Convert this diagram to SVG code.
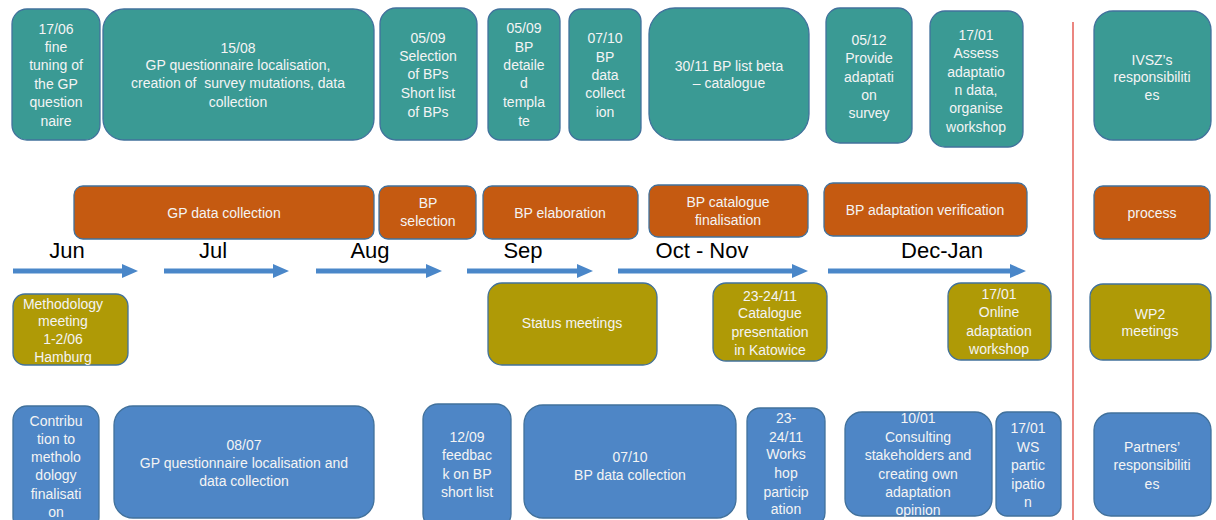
<svg xmlns="http://www.w3.org/2000/svg" width="1216" height="520" viewBox="0 0 1216 520">
<style>
.b{stroke:#41719C;stroke-width:1.3}
.t{fill:#3A9A94}
.o{fill:#C55A11}
.y{fill:#AF9A06}
.u{fill:#4E86C6}
text{font-family:"Liberation Sans",Arial,sans-serif;font-size:14px;fill:#F4F4F4;text-anchor:middle}
.m{font-size:22px;fill:#000}
.ar{fill:#4A87C9}
</style>
<rect width="1216" height="520" fill="#fff"/>
<line x1="1073" y1="22" x2="1073" y2="520" stroke="#E0443C" stroke-width="1.3"/>

<g id="n1"><rect class="b t" x="12" y="9" width="88" height="131" rx="15"/>
<text x="56"><tspan x="56" y="34">17/06</tspan><tspan x="56" y="52">fine</tspan><tspan x="56" y="70">tuning of</tspan><tspan x="56" y="89">the GP</tspan><tspan x="56" y="107">question</tspan><tspan x="56" y="126">naire</tspan></text></g>
<g id="n2"><rect class="b t" x="103" y="9" width="271" height="131" rx="21"/>
<text><tspan x="238" y="53">15/08</tspan><tspan x="238" y="70">GP questionnaire localisation,</tspan><tspan x="238" y="88">creation of &#160;survey mutations, data</tspan><tspan x="238" y="107">collection</tspan></text></g>
<g id="n3"><rect class="b t" x="380" y="8" width="97" height="132" rx="16"/>
<text><tspan x="428" y="43">05/09</tspan><tspan x="428" y="61">Selection</tspan><tspan x="428" y="79">of BPs</tspan><tspan x="428" y="98">Short list</tspan><tspan x="428" y="117">of BPs</tspan></text></g>
<g id="n4"><rect class="b t" x="488" y="9" width="72" height="131" rx="12"/>
<text><tspan x="524" y="33">05/09</tspan><tspan x="524" y="52">BP</tspan><tspan x="524" y="70">detaile</tspan><tspan x="524" y="88">d</tspan><tspan x="524" y="107">templa</tspan><tspan x="524" y="126">te</tspan></text></g>
<g id="n5"><rect class="b t" x="569" y="9" width="72" height="131" rx="12"/>
<text><tspan x="605" y="43">07/10</tspan><tspan x="605" y="62">BP</tspan><tspan x="605" y="80">data</tspan><tspan x="605" y="98">collect</tspan><tspan x="605" y="117">ion</tspan></text></g>
<g id="n6"><rect class="b t" x="649" y="8" width="160" height="132" rx="26"/>
<text><tspan x="729" y="71">30/11 BP list beta</tspan><tspan x="729" y="88">– catalogue</tspan></text></g>
<g id="n7"><rect class="b t" x="826" y="8" width="86" height="135" rx="14"/>
<text><tspan x="869" y="45">05/12</tspan><tspan x="869" y="63">Provide</tspan><tspan x="869" y="82">adaptati</tspan><tspan x="869" y="100">on</tspan><tspan x="869" y="118">survey</tspan></text></g>
<g id="n8"><rect class="b t" x="930" y="11" width="93" height="136" rx="15"/>
<text><tspan x="976" y="40">17/01</tspan><tspan x="976" y="58">Assess</tspan><tspan x="976" y="77">adaptatio</tspan><tspan x="976" y="95">n data,</tspan><tspan x="976" y="113">organise</tspan><tspan x="976" y="132">workshop</tspan></text></g>
<g id="n9"><rect class="b t" x="1094" y="11" width="117" height="129" rx="19"/>
<text><tspan x="1152" y="65">IVSZ’s</tspan><tspan x="1152" y="82">responsibiliti</tspan><tspan x="1152" y="100">es</tspan></text></g>

<g id="o1"><rect class="b o" x="74" y="186" width="300" height="53" rx="9"/><text x="224" y="218">GP data collection</text></g>
<g id="o2"><rect class="b o" x="379" y="186" width="97" height="53" rx="9"/><text><tspan x="428" y="208">BP</tspan><tspan x="428" y="226">selection</tspan></text></g>
<g id="o3"><rect class="b o" x="483" y="186" width="155" height="53" rx="9"/><text x="560" y="218">BP elaboration</text></g>
<g id="o4"><rect class="b o" x="649" y="185" width="159" height="52" rx="9"/><text><tspan x="728" y="207">BP catalogue</tspan><tspan x="728" y="225">finalisation</tspan></text></g>
<g id="o5"><rect class="b o" x="824" y="183" width="203" height="53" rx="9"/><text x="925" y="215">BP adaptation verification</text></g>
<g id="o6"><rect class="b o" x="1094" y="186" width="116" height="53" rx="9"/><text x="1152" y="218">process</text></g>

<g id="months">
<text class="m" x="67" y="258">Jun</text>
<text class="m" x="213" y="258">Jul</text>
<text class="m" x="370" y="258">Aug</text>
<text class="m" x="523" y="258">Sep</text>
<text class="m" x="702" y="258">Oct - Nov</text>
<text class="m" x="942" y="258">Dec-Jan</text>
</g>

<g id="connectors">
<polygon class="ar" points="13,268.5 122,268.5 122,264 138,271 122,278 122,273.5 13,273.5"/>
<polygon class="ar" points="164,268.5 273,268.5 273,264 289,271 273,278 273,273.5 164,273.5"/>
<polygon class="ar" points="316,268.5 426,268.5 426,264 442,271 426,278 426,273.5 316,273.5"/>
<polygon class="ar" points="467,268.5 577,268.5 577,264 593,271 577,278 577,273.5 467,273.5"/>
<polygon class="ar" points="618,268.5 792,268.5 792,264 808,271 792,278 792,273.5 618,273.5"/>
<polygon class="ar" points="828,268.5 1010,268.5 1010,264 1026,271 1010,278 1010,273.5 828,273.5"/>
</g>

<g id="y1"><rect class="b y" x="13" y="294" width="115" height="71" rx="12"/>
<text><tspan x="63" y="309">Methodology</tspan><tspan x="63" y="326">meeting</tspan><tspan x="63" y="344">1-2/06</tspan><tspan x="63" y="362">Hamburg</tspan></text></g>
<g id="y2"><rect class="b y" x="488" y="283" width="169" height="82" rx="14"/><text x="572" y="328">Status meetings</text></g>
<g id="y3"><rect class="b y" x="713" y="283" width="114" height="78" rx="13"/>
<text><tspan x="770" y="301">23-24/11</tspan><tspan x="770" y="318">Catalogue</tspan><tspan x="770" y="337">presentation</tspan><tspan x="770" y="355">in Katowice</tspan></text></g>
<g id="y4"><rect class="b y" x="948" y="283" width="103" height="77" rx="13"/>
<text><tspan x="999" y="299">17/01</tspan><tspan x="999" y="317">Online</tspan><tspan x="999" y="336">adaptation</tspan><tspan x="999" y="354">workshop</tspan></text></g>
<g id="y5"><rect class="b y" x="1090" y="284" width="121" height="76" rx="13"/>
<text><tspan x="1150" y="319">WP2</tspan><tspan x="1150" y="336">meetings</tspan></text></g>

<g id="u1"><rect class="b u" x="13" y="406" width="86" height="125" rx="14"/>
<text><tspan x="56" y="426">Contribu</tspan><tspan x="56" y="444">tion to</tspan><tspan x="56" y="462">metholo</tspan><tspan x="56" y="480">dology</tspan><tspan x="56" y="499">finalisati</tspan><tspan x="56" y="517">on</tspan></text></g>
<g id="u2"><rect class="b u" x="114" y="406" width="260" height="112" rx="19"/>
<text><tspan x="244" y="450">08/07</tspan><tspan x="244" y="468">GP questionnaire localisation and</tspan><tspan x="244" y="486">data collection</tspan></text></g>
<g id="u3"><rect class="b u" x="423" y="404" width="88" height="125" rx="15"/>
<text><tspan x="467" y="442">12/09</tspan><tspan x="467" y="460">feedbac</tspan><tspan x="467" y="479">k on BP</tspan><tspan x="467" y="497">short list</tspan></text></g>
<g id="u4"><rect class="b u" x="524" y="405" width="212" height="113" rx="19"/>
<text><tspan x="630" y="462">07/10</tspan><tspan x="630" y="480">BP data collection</tspan></text></g>
<g id="u5"><rect class="b u" x="747" y="408" width="78" height="118" rx="13"/>
<text><tspan x="786" y="423">23-</tspan><tspan x="786" y="442">24/11</tspan><tspan x="786" y="459">Works</tspan><tspan x="786" y="478">hop</tspan><tspan x="786" y="497">particip</tspan><tspan x="786" y="514">ation</tspan></text></g>
<g id="u6"><rect class="b u" x="845" y="412" width="147" height="104" rx="17"/>
<text><tspan x="918" y="423">10/01</tspan><tspan x="918" y="442">Consulting</tspan><tspan x="918" y="460">stakeholders and</tspan><tspan x="918" y="479">creating own</tspan><tspan x="918" y="497">adaptation</tspan><tspan x="918" y="515">opinion</tspan></text></g>
<g id="u7"><rect class="b u" x="996" y="412" width="65" height="104" rx="11"/>
<text><tspan x="1028" y="433">17/01</tspan><tspan x="1028" y="452">WS</tspan><tspan x="1028" y="470">partic</tspan><tspan x="1028" y="489">ipatio</tspan><tspan x="1028" y="507">n</tspan></text></g>
<g id="u8"><rect class="b u" x="1094" y="413" width="117" height="103" rx="17"/>
<text><tspan x="1152" y="452">Partners’</tspan><tspan x="1152" y="470">responsibiliti</tspan><tspan x="1152" y="489">es</tspan></text></g>
</svg>
